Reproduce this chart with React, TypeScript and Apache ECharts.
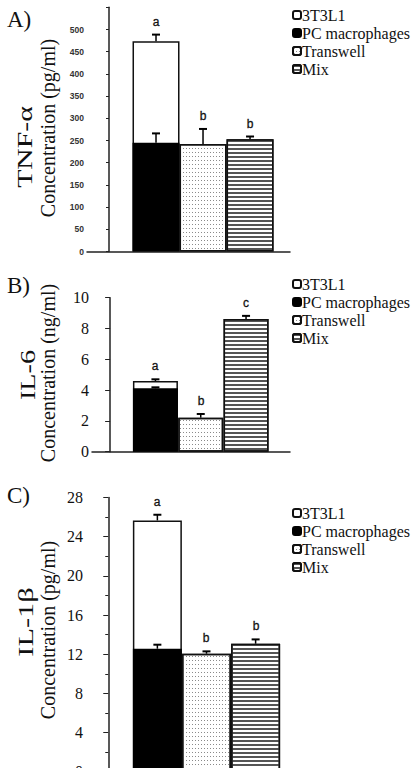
import { useEffect, useRef } from 'react';
import * as echarts from 'echarts';

// Legend entries (cell sources)
const legendNames = ['3T3L1', 'PC macrophages', 'Transwell', 'Mix'];
// Slot of each bar on the x axis: co-culture, transwell, mix
const barSlots = [1, 2, 3];

// TNF-α (pg/ml): PC macrophages, co-culture total (3T3L1 part on top), Transwell, Mix
const tnfValues = [245, 473.5, 242, 253];
const tnfErrors = [21, 15, 34, 6];
const tnfLetters = ['a', 'b', 'b'];

// IL-6 (ng/ml)
const il6Values = [4.12, 4.59, 2.21, 8.62];
const il6Errors = [0.06, 0.11, 0.24, 0.2];
const il6Letters = ['a', 'b', 'c'];

// IL-1β (pg/ml)
const il1Values = [12.57, 25.66, 12.06, 13.08];
const il1Errors = [0.41, 0.58, 0.24, 0.44];
const il1Letters = ['a', 'b', 'b'];

const dotDecal = {
  symbol: 'rect',
  symbolSize: 1,
  dashArrayX: [1, 2],
  dashArrayY: [1, 3],
  color: '#8a8a8a',
};
const stripeDecal = {
  symbol: 'rect',
  symbolSize: 1,
  dashArrayX: [1, 0],
  dashArrayY: [2, 2],
  color: '#555',
};

function panelSeries(i: number, values: number[], errors: number[], letters: string[], barWidth: number) {
  const common = {
    type: 'bar',
    xAxisIndex: i,
    yAxisIndex: i,
    barWidth,
    barGap: '-100%',
  };
  const errRows = [
    [barSlots[0], values[0], values[0] + errors[0]],
    [barSlots[0], values[1], values[1] + errors[1]],
    [barSlots[1], values[2], values[2] + errors[2]],
    [barSlots[2], values[3], values[3] + errors[3]],
  ];
  return [
    // 3T3L1 share: the co-culture total, with the macrophage part drawn over it
    {
      ...common,
      name: '3T3L1',
      z: 2,
      data: [[barSlots[0], values[1]]],
      itemStyle: { color: '#fff', borderColor: '#111', borderWidth: 1.5 },
    },
    {
      ...common,
      name: 'PC macrophages',
      z: 3,
      data: [[barSlots[0], values[0]]],
      itemStyle: { color: '#000', borderColor: '#000', borderWidth: 1.5 },
    },
    {
      ...common,
      name: 'Transwell',
      z: 2,
      data: [[barSlots[1], values[2]]],
      itemStyle: { color: '#fff', borderColor: '#111', borderWidth: 1.5, decal: dotDecal },
    },
    {
      ...common,
      name: 'Mix',
      z: 2,
      data: [[barSlots[2], values[3]]],
      itemStyle: { color: '#fff', borderColor: '#111', borderWidth: 1.5, decal: stripeDecal },
    },
    {
      type: 'custom',
      name: 'err' + i,
      xAxisIndex: i,
      yAxisIndex: i,
      z: 5,
      itemStyle: { color: '#000' },
      encode: { x: 0, y: [1, 2] },
      data: errRows,
      renderItem: (params: any, api: any) => {
        const x = api.value(0);
        const p0 = api.coord([x, api.value(1)]);
        const p1 = api.coord([x, api.value(2)]);
        const children: any[] = [
          {
            type: 'line',
            shape: { x1: p0[0], y1: p0[1], x2: p1[0], y2: p1[1] },
            style: { stroke: '#000', lineWidth: 1.5 },
          },
          {
            type: 'line',
            shape: { x1: p1[0] - 4, y1: p1[1], x2: p1[0] + 4, y2: p1[1] },
            style: { stroke: '#000', lineWidth: 2 },
          },
        ];
        const letter = params.dataIndex > 0 ? letters[params.dataIndex - 1] : '';
        if (letter) {
          children.push({
            type: 'text',
            x: Math.round(p1[0]),
            y: Math.round(p1[1] - 13),
            style: {
              text: letter,
              align: 'center',
              verticalAlign: 'middle',
              font: '12px "Liberation Sans", Arial, sans-serif',
              fill: '#111',
              stroke: '#111',
              lineWidth: 0.3,
            },
          });
        }
        return { type: 'group', children };
      },
    },
  ];
}

function xAxisFor(i: number, min: number, max: number) {
  return {
    type: 'value',
    gridIndex: i,
    min,
    max,
    axisLine: { show: true, lineStyle: { color: '#222', width: 1.5 } },
    axisTick: { show: false },
    axisLabel: { show: false },
    splitLine: { show: false },
  };
}

const serifLabel = {
  fontFamily: '"Liberation Serif", "Times New Roman", serif',
  fontSize: 16,
  color: '#111',
  margin: 3,
};

function titleText(x: number, y: number, text: string, size: number, rotate: boolean, stretch = 1) {
  return {
    type: 'text',
    x,
    y,
    rotation: rotate ? Math.PI / 2 : 0,
    scaleX: stretch,
    style: {
      text,
      font: `${size}px "Liberation Serif", "Times New Roman", serif`,
      fill: '#111',
      align: rotate ? 'center' : 'left',
      verticalAlign: 'middle',
    },
  };
}

function legendAt(top: number) {
  return {
    data: legendNames,
    orient: 'vertical',
    left: 292,
    top,
    padding: 0,
    itemGap: 0,
    itemWidth: 8,
    itemHeight: 8,
    selectedMode: false,
    textStyle: {
      fontFamily: '"Liberation Serif", "Times New Roman", serif',
      fontSize: 16,
      lineHeight: 18,
      color: '#111',
      padding: [0, 0, 0, -4],
    },
  };
}

export default function App() {
  const ref = useRef<HTMLDivElement>(null);

  useEffect(() => {
    if (!ref.current) return;
    const chart = echarts.init(ref.current, null, { renderer: 'svg' });
    chart.setOption({
      animation: false,
      backgroundColor: '#fff',
      grid: [
        { left: 87, top: 7.3, width: 203, height: 244.2 },
        { left: 92, top: 297.7, width: 198, height: 154 },
        { left: 86, top: 497.5, width: 204, height: 274.4 },
      ],
      xAxis: [xAxisFor(0, -0.468, 3.85), xAxisFor(1, -0.4, 3.97), xAxisFor(2, -0.453, 3.7)],
      yAxis: [
        {
          type: 'value',
          gridIndex: 0,
          min: 0,
          max: 550,
          interval: 50,
          axisLine: { show: true, lineStyle: { color: '#222', width: 1.5 } },
          axisTick: { show: true, length: 3, lineStyle: { color: '#222' } },
          splitLine: { show: false },
          axisLabel: {
            fontFamily: '"Liberation Sans", Arial, sans-serif',
            fontSize: 8.5,
            fontWeight: 'bold',
            color: '#333',
            margin: 3,
            formatter: (v: number) => (v > 500 ? '' : String(v)),
          },
        },
        {
          type: 'value',
          gridIndex: 1,
          min: 0,
          max: 10,
          interval: 2,
          axisLine: { show: true, lineStyle: { color: '#222', width: 1.5 } },
          axisTick: { show: true, length: 5, lineStyle: { color: '#222' } },
          splitLine: { show: false },
          axisLabel: serifLabel,
        },
        {
          type: 'value',
          gridIndex: 2,
          min: 0,
          max: 28,
          interval: 4,
          axisLine: { show: true, lineStyle: { color: '#222', width: 1.5 } },
          axisTick: { show: true, length: 5, lineStyle: { color: '#222' } },
          minorTick: { show: true, splitNumber: 2, length: 3, lineStyle: { color: '#222' } },
          splitLine: { show: false },
          axisLabel: serifLabel,
        },
      ],
      legend: [legendAt(6), legendAt(275), legendAt(504)],
      graphic: [
        titleText(7, 19, 'A)', 23, false),
        titleText(25, 147, 'TNF-α', 22, true, 1.35),
        titleText(48, 128, 'Concentration (pg/ml)', 20, true),
        titleText(7, 285, 'B)', 23, false),
        titleText(27, 375, 'IL-6', 22, true, 1.28),
        titleText(48, 373, 'Concentration (ng/ml)', 20, true),
        titleText(7, 495, 'C)', 23, false),
        titleText(26, 622, 'IL-1β', 22, true, 1.38),
        titleText(48, 630, 'Concentration (pg/ml)', 20, true),
      ],
      series: [
        ...panelSeries(0, tnfValues, tnfErrors, tnfLetters, 47),
        ...panelSeries(1, il6Values, il6Errors, il6Letters, 45),
        ...panelSeries(2, il1Values, il1Errors, il1Letters, 49),
      ],
    });
    return () => chart.dispose();
  }, []);

  return (
    <div style={{ position: 'absolute', left: 0, top: 0, width: 414, height: 768, overflow: 'hidden' }}>
      <div ref={ref} style={{ width: 414, height: 800 }} />
    </div>
  );
}
